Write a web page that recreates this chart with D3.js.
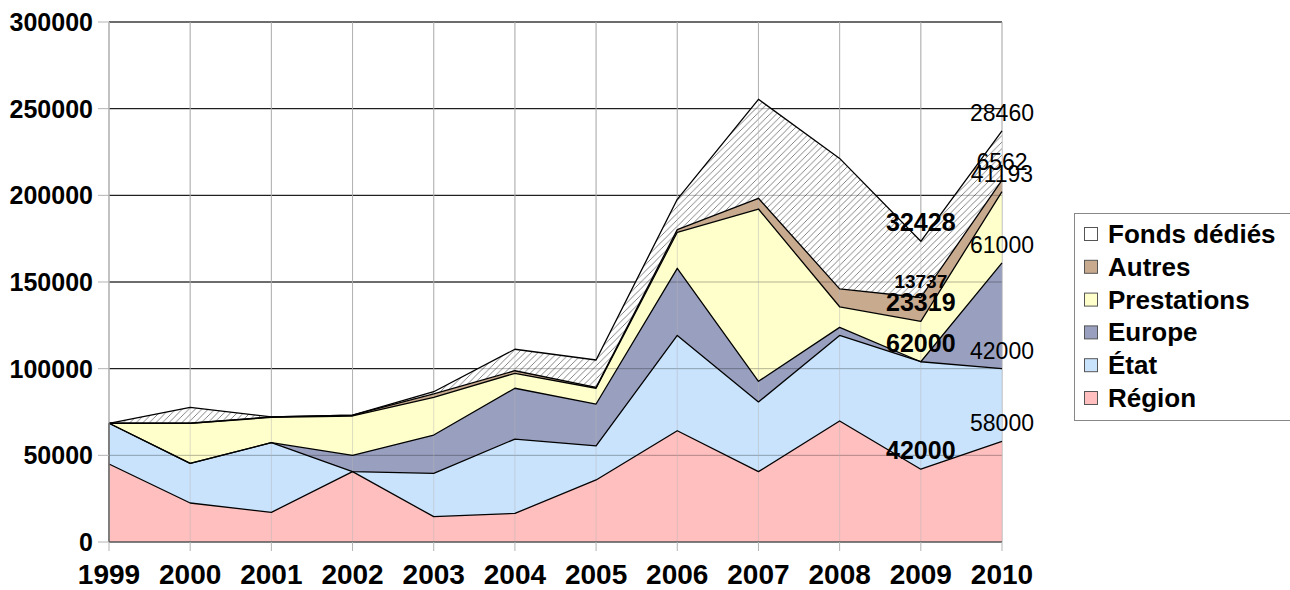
<!DOCTYPE html>
<html>
<head>
<meta charset="utf-8">
<script src="https://cdn.jsdelivr.net/npm/d3@7"></script>
<style>
  body { margin: 0; background: #fff; }
  svg { display: block; font-family: "Liberation Sans", Arial, sans-serif; }
</style>
</head>
<body>
<div id="chart"></div>
<script>
// Data
const years = [1999, 2000, 2001, 2002, 2003, 2004, 2005, 2006, 2007, 2008, 2009, 2010];
const region      = [45000, 22500, 17100, 40600, 14600, 16500, 35800, 64200, 40600, 69800, 42000, 58000];
const etat        = [23500, 22900, 40200, 0, 25000, 42900, 19600, 55000, 40200, 49400, 62000, 42000];
const europe      = [0, 0, 0, 9400, 22100, 29300, 24200, 38700, 11900, 4600, 0, 61000];
const prestations = [0, 23100, 14600, 22700, 21800, 8600, 9100, 20800, 99400, 11900, 23319, 41193];
const autres      = [0, 0, 300, 500, 1900, 1500, 500, 1500, 6200, 10300, 13737, 6562];
const fonds       = [0, 9200, 0, 0, 1300, 12400, 15800, 17500, 57100, 75300, 32428, 28460];
const seriesNames = ["Région", "État", "Europe", "Prestations", "Autres", "Fonds dédiés"];
const yTicks = [0, 50000, 100000, 150000, 200000, 250000, 300000];
const labelledYears = [2009, 2010];

const seriesValues = [region, etat, europe, prestations, autres, fonds];
const table = years.map((yr, i) => {
  const row = { year: yr };
  seriesNames.forEach((s, k) => row[s] = seriesValues[k][i]);
  return row;
});

const width = 1290, height = 590;
const plot = { left: 109, right: 1002, top: 22, bottom: 542 };

const svg = d3.select("#chart").append("svg")
  .attr("width", width)
  .attr("height", height);

// hatch for "Fonds dédiés"
const defs = svg.append("defs");
const pat = defs.append("pattern")
  .attr("id", "hatch")
  .attr("patternUnits", "userSpaceOnUse")
  .attr("width", 6.5)
  .attr("height", 6.5);
pat.append("rect").attr("width", 6.5).attr("height", 6.5).attr("fill", "#fff");
pat.append("path")
  .attr("d", "M-1,7.5 L7.5,-1 M-4,3.25 L3.25,-4 M3.25,10.5 L10.5,3.25")
  .attr("stroke", "#767676")
  .attr("stroke-width", 0.9);

const x = d3.scaleLinear().domain([1999, 2010]).range([plot.left, plot.right]);
const y = d3.scaleLinear().domain([0, 300000]).range([plot.bottom, plot.top]);

const color = d3.scaleOrdinal()
  .domain(seriesNames)
  .range(["#ffbfbf", "#c9e3fd", "#99a0bf", "#ffffcc", "#c8aa8f", "url(#hatch)"]);

const stacked = d3.stack().keys(seriesNames)(table);

// gridlines
function grid(g, op) {
  g.selectAll("line.h")
    .data(yTicks.filter(t => t > 0))
    .enter().append("line")
    .attr("x1", plot.left).attr("x2", plot.right)
    .attr("y1", d => y(d)).attr("y2", d => y(d))
    .attr("stroke", "#000").attr("stroke-opacity", op);
  g.selectAll("line.v")
    .data(years)
    .enter().append("line")
    .attr("x1", d => x(d)).attr("x2", d => x(d))
    .attr("y1", plot.top).attr("y2", plot.bottom)
    .attr("stroke", "#b3b3b3").attr("stroke-opacity", Math.min(1, op * 1.5));
}
grid(svg.append("g"), 1);

const area = d3.area()
  .x(d => x(d.data.year))
  .y0(d => y(d[0]))
  .y1(d => y(d[1]));

svg.append("g").selectAll("path")
  .data(stacked)
  .enter().append("path")
  .attr("d", area)
  .attr("fill", d => color(d.key));

// gridlines seen through the areas
grid(svg.append("g"), 0.3);

const line = d3.line()
  .x(d => x(d.data.year))
  .y(d => y(d[1]));

svg.append("g").selectAll("path")
  .data(stacked)
  .enter().append("path")
  .attr("d", line)
  .attr("fill", "none")
  .attr("stroke", "#000")
  .attr("stroke-width", 1.3)
  .attr("stroke-linejoin", "round");

// left edge of the areas
svg.append("line")
  .attr("x1", x(1999)).attr("x2", x(1999))
  .attr("y1", y(0)).attr("y2", y(stacked[stacked.length - 1][0][1]))
  .attr("stroke", "#000").attr("stroke-width", 1.3);

// axes
svg.append("line")
  .attr("x1", plot.left).attr("x2", plot.left)
  .attr("y1", plot.top).attr("y2", plot.bottom)
  .attr("stroke", "#b3b3b3");

svg.append("g").selectAll("line")
  .data(yTicks)
  .enter().append("line")
  .attr("x1", plot.left - 11).attr("x2", plot.left)
  .attr("y1", d => y(d)).attr("y2", d => y(d))
  .attr("stroke", "#b3b3b3");

svg.append("g").selectAll("text")
  .data(yTicks)
  .enter().append("text")
  .attr("x", 93)
  .attr("y", d => y(d) + 9)
  .attr("text-anchor", "end")
  .style("font-size", "25px")
  .style("font-weight", "bold")
  .text(d => d);

svg.append("line")
  .attr("x1", plot.left).attr("x2", plot.right)
  .attr("y1", plot.bottom).attr("y2", plot.bottom)
  .attr("stroke", "#555").attr("stroke-width", 1.5);

svg.append("g").selectAll("line")
  .data(years)
  .enter().append("line")
  .attr("x1", d => x(d)).attr("x2", d => x(d))
  .attr("y1", plot.bottom).attr("y2", plot.bottom + 9)
  .attr("stroke", "#b3b3b3");

svg.append("g").selectAll("text")
  .data(years)
  .enter().append("text")
  .attr("x", d => x(d))
  .attr("y", 584)
  .attr("text-anchor", "middle")
  .style("font-size", "28px")
  .style("font-weight", "bold")
  .text(d => d);

// data labels
const labels = [];
stacked.forEach(s => {
  s.forEach(d => {
    const v = d.data[s.key];
    if (labelledYears.includes(d.data.year) && v > 0) {
      labels.push({ year: d.data.year, key: s.key, value: v, top: d[1] });
    }
  });
});

svg.append("g").selectAll("text")
  .data(labels)
  .enter().append("text")
  .attr("x", d => x(d.year))
  .attr("y", d => y(d.top) - 10)
  .attr("text-anchor", "middle")
  .style("font-weight", d => d.year === 2009 ? "bold" : "normal")
  .style("font-size", d => d.year === 2009 ? (d.key === "Autres" ? "19px" : "25px") : "23px")
  .text(d => d.value);

// legend
const legend = svg.append("g");
legend.append("rect")
  .attr("x", 1074.5).attr("y", 213.5)
  .attr("width", 216).attr("height", 207)
  .attr("fill", "#fff")
  .attr("stroke", "#888");

seriesNames.slice().reverse().forEach((name, i) => {
  legend.append("rect")
    .attr("x", 1084.5)
    .attr("y", 227.5 + i * 32.8)
    .attr("width", 13)
    .attr("height", 13)
    .attr("fill", name === "Fonds dédiés" ? "#fff" : color(name))
    .attr("stroke", "#555");

  legend.append("text")
    .attr("x", 1108)
    .attr("y", 243 + i * 32.8)
    .style("font-size", "26px")
    .style("font-weight", "bold")
    .text(name);
});
</script>
</body>
</html>
